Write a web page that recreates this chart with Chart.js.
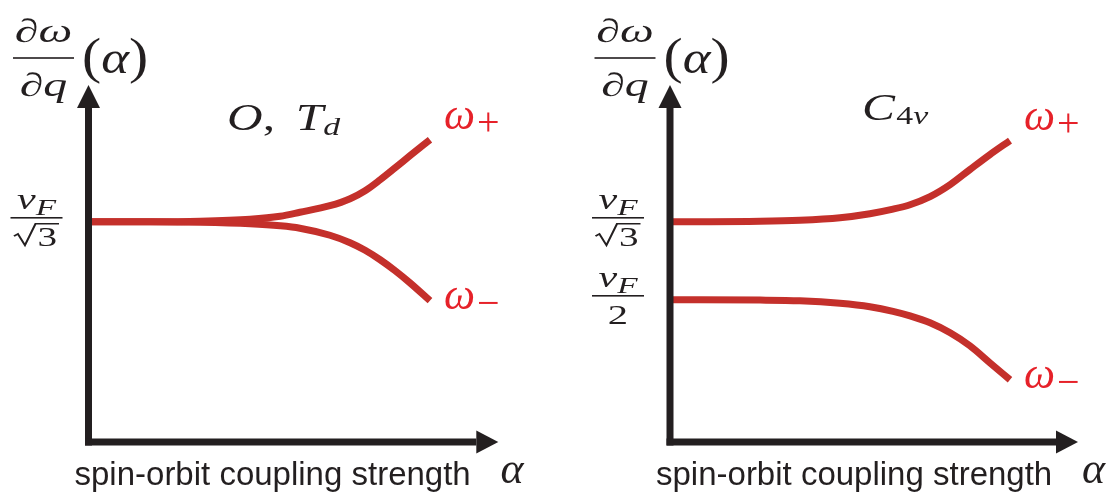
<!DOCTYPE html>
<html>
<head>
<meta charset="utf-8">
<script src="https://cdn.jsdelivr.net/npm/chart.js@4.4.1/dist/chart.umd.min.js"></script>
<style>
  html, body { margin: 0; padding: 0; background: #fff; overflow: hidden; }
  canvas { position: absolute; top: 0; }
  #chartO { left: 0; }
  #chartC4v { left: 558px; }
</style>
</head>
<body>
<canvas id="chartO" width="558" height="496"></canvas>
<canvas id="chartC4v" width="559" height="496"></canvas>
<script>
// group velocity dω/dq vs spin-orbit coupling α (v_F = 1)
const alphaO      = [0, 0.18, 0.327, 0.473, 0.561, 0.619, 0.707, 0.766, 0.810, 0.854, 0.898, 0.941, 1.0];
const wPlusO      = [0.5774, 0.5774, 0.5779, 0.5799, 0.5829, 0.5868, 0.5933, 0.6002, 0.6081, 0.6190, 0.6309, 0.6428, 0.6587];
const wMinusO     = [0.5774, 0.5774, 0.5769, 0.5754, 0.5734, 0.5710, 0.5640, 0.5566, 0.5491, 0.5397, 0.5288, 0.5169, 0.4991];

const alphaC4v    = [0, 0.265, 0.382, 0.5, 0.588, 0.656, 0.706, 0.765, 0.824, 0.882, 0.941, 1.0];
const wPlusC4v    = [0.5774, 0.5779, 0.5789, 0.5814, 0.5854, 0.5899, 0.5943, 0.6023, 0.6142, 0.6291, 0.6440, 0.6579];
const wMinusC4v   = [0.5000, 0.4997, 0.4990, 0.4965, 0.4931, 0.4886, 0.4841, 0.4772, 0.4673, 0.4544, 0.4375, 0.4207];

// y ticks: v_F/√3 and v_F/2
const ticksO      = [1 / Math.sqrt(3)];
const tickDenO    = ['√3'];
const ticksC4v    = [1 / Math.sqrt(3), 0.5];
const tickDenC4v  = ['√3', '2'];

const xLabel = 'spin-orbit coupling strength';

const INK = '#231f20';
const CURVE = '#c4302b';
const LABEL_RED = '#e62129';
const SERIF = '"Liberation Serif", "DejaVu Serif", serif';
const SANS = '"Liberation Sans", Arial, Helvetica, sans-serif';
const it = s => `italic ${s}px ${SERIF}`;
const rm = s => `${s}px ${SERIF}`;

// width of a run list before horizontal stretch
function runsWidth(ctx, runs) {
  let w = 0;
  runs.forEach(r => {
    ctx.font = r.font;
    const tw = ctx.measureText(r.t).width;
    w += r.radical ? r.size * 0.6 + tw + r.size * 0.05 : tw;
    w += r.kern || 0;
  });
  return w;
}

// draws runs on one baseline, stretched by sx horizontally
function drawRuns(ctx, runs, x, y, sx, align, color) {
  const total = runsWidth(ctx, runs) * sx;
  const x0 = align === 'center' ? x - total / 2 : x;
  ctx.save();
  ctx.translate(x0, y);
  ctx.scale(sx, 1);
  ctx.fillStyle = color;
  ctx.strokeStyle = color;
  ctx.textBaseline = 'alphabetic';
  ctx.textAlign = 'left';
  let cx = 0;
  runs.forEach(r => {
    ctx.font = r.font;
    const tw = ctx.measureText(r.t).width;
    const dy = r.dy || 0;
    if (r.radical) {
      const s = r.size;
      ctx.lineWidth = s * 0.055;
      ctx.lineJoin = 'miter';
      ctx.beginPath();
      ctx.moveTo(cx, dy - 0.36 * s);
      ctx.lineTo(cx + 0.1 * s, dy - 0.44 * s);
      ctx.lineTo(cx + 0.28 * s, dy - 0.02 * s);
      ctx.lineTo(cx + 0.55 * s, dy - 0.82 * s);
      ctx.lineTo(cx + 0.6 * s + tw + 0.05 * s, dy - 0.82 * s);
      ctx.stroke();
      ctx.fillText(r.t, cx + 0.6 * s, dy);
      cx += 0.6 * s + tw + 0.05 * s;
    } else {
      ctx.fillText(r.t, cx, dy);
      cx += tw;
    }
    cx += r.kern || 0;
  });
  ctx.restore();
  return total;
}

function drawFrac(ctx, num, den, cx, barY, barW, sx, numGap, denGap, color) {
  ctx.fillStyle = color;
  ctx.fillRect(cx - barW / 2, barY - 0.8, barW, 1.6);
  drawRuns(ctx, num, cx, barY - numGap, sx, 'center', color);
  drawRuns(ctx, den, cx, barY + denGap, sx, 'center', color);
}

function tickDen(d) {
  if (d === '√3') return [{ t: '3', font: rm(27), size: 27, radical: true }];
  return [{ t: d, font: rm(28) }];
}

// axes with arrows, math labels and curve names
const decor = {
  id: 'decor',
  afterDatasetsDraw(chart, args, opts) {
    const ctx = chart.ctx;
    const { left, right, top, bottom } = chart.chartArea;
    const yScale = chart.scales.y;
    const xScale = chart.scales.x;

    // axes
    ctx.save();
    ctx.fillStyle = INK;
    ctx.fillRect(left - 3.5, top + 22, 7, bottom + 3.5 - (top + 22));
    ctx.beginPath();
    ctx.moveTo(left - 11.5, top + 22);
    ctx.lineTo(left + 11.5, top + 22);
    ctx.lineTo(left, top - 1);
    ctx.closePath();
    ctx.fill();
    ctx.fillRect(left - 3.5, bottom - 3.5, right - 22 - (left - 3.5), 7);
    ctx.beginPath();
    ctx.moveTo(right - 22, bottom - 11.5);
    ctx.lineTo(right - 22, bottom + 11.5);
    ctx.lineTo(right, bottom);
    ctx.closePath();
    ctx.fill();
    ctx.restore();

    // y axis label  ∂ω/∂q (α)
    const barY = top - 28;
    drawFrac(ctx,
      [{ t: '∂', font: it(33) }, { t: 'ω', font: it(33) }],
      [{ t: '∂', font: it(33) }, { t: 'q', font: it(33) }],
      left - 45, barY, 61, 1.45, 16, 38, INK);
    drawRuns(ctx, [{ t: '(', font: rm(50) }, { t: 'α', font: it(46) }, { t: ')', font: rm(50) }],
      left - 6.5, barY + 15, 1.15, 'left', INK);

    // tick fractions
    opts.ticks.forEach((v, i) => {
      const py = yScale.getPixelForValue(v) - 4;
      drawFrac(ctx,
        [{ t: 'v', font: it(29) }, { t: 'F', font: it(23), dy: 6 }],
        tickDen(opts.dens[i]),
        left - 52, py, 52, 1.45, 9, 28, INK);
    });

    // panel title
    drawRuns(ctx, opts.title, left + opts.titleDx, top + opts.titleDy, 1.3, 'left', INK);

    // curve names at the end of each branch
    chart.data.datasets.forEach((ds, i) => {
      const last = ds.data[ds.data.length - 1];
      const px = xScale.getPixelForValue(last.x) + 14;
      const py = yScale.getPixelForValue(last.y) + (i === 0 ? -11 : 8.5);
      drawRuns(ctx, [{ t: 'ω', font: it(44), kern: 2 }, { t: i === 0 ? '+' : '−', font: rm(40), dy: i === 0 ? 6.5 : 7 }],
        px, py, 1.0, 'left', LABEL_RED);
    });

    // x axis label
    ctx.save();
    ctx.fillStyle = INK;
    ctx.font = `33px ${SANS}`;
    ctx.textBaseline = 'alphabetic';
    ctx.fillText(xLabel, left - 14, bottom + 43);
    ctx.restore();
    drawRuns(ctx, [{ t: 'α', font: it(44) }], left + 412, bottom + 41, 1.0, 'left', INK);
  }
};

function makeChart(id, alpha, plus, minus, padding, decorOpts) {
  const pts = arr => arr.map((y, i) => ({ x: alpha[i], y: y }));
  const line = data => ({
    data: data,
    borderColor: CURVE,
    borderWidth: 7,
    borderCapStyle: 'butt',
    pointRadius: 0,
    fill: false,
    cubicInterpolationMode: 'monotone'
  });
  return new Chart(document.getElementById(id), {
    type: 'line',
    data: { datasets: [line(pts(plus)), line(pts(minus))] },
    options: {
      responsive: false,
      animation: false,
      layout: { padding: padding },
      plugins: { legend: { display: false }, tooltip: { enabled: false }, decor: decorOpts },
      scales: {
        x: { type: 'linear', min: 0, max: 1.2, display: false },
        y: { min: 0.359, max: 0.712, display: false }
      }
    },
    plugins: [decor]
  });
}

makeChart('chartO', alphaO, wPlusO, wMinusO,
  { left: 88.5, right: 59.7, top: 86, bottom: 54 },
  {
    ticks: ticksO, dens: tickDenO, titleDx: 138.5, titleDy: 44,
    title: [{ t: 'O', font: it(38) }, { t: ',', font: rm(38), kern: 16 }, { t: 'T', font: it(38) }, { t: 'd', font: it(26), dy: 5 }]
  });

makeChart('chartC4v', alphaC4v, wPlusC4v, wMinusC4v,
  { left: 112, right: 39, top: 86, bottom: 54 },
  {
    ticks: ticksC4v, dens: tickDenC4v, titleDx: 192, titleDy: 34,
    title: [{ t: 'C', font: it(38), kern: 1 }, { t: '4', font: rm(26), dy: 4 }, { t: 'v', font: it(26), dy: 4 }]
  });
</script>
</body>
</html>
